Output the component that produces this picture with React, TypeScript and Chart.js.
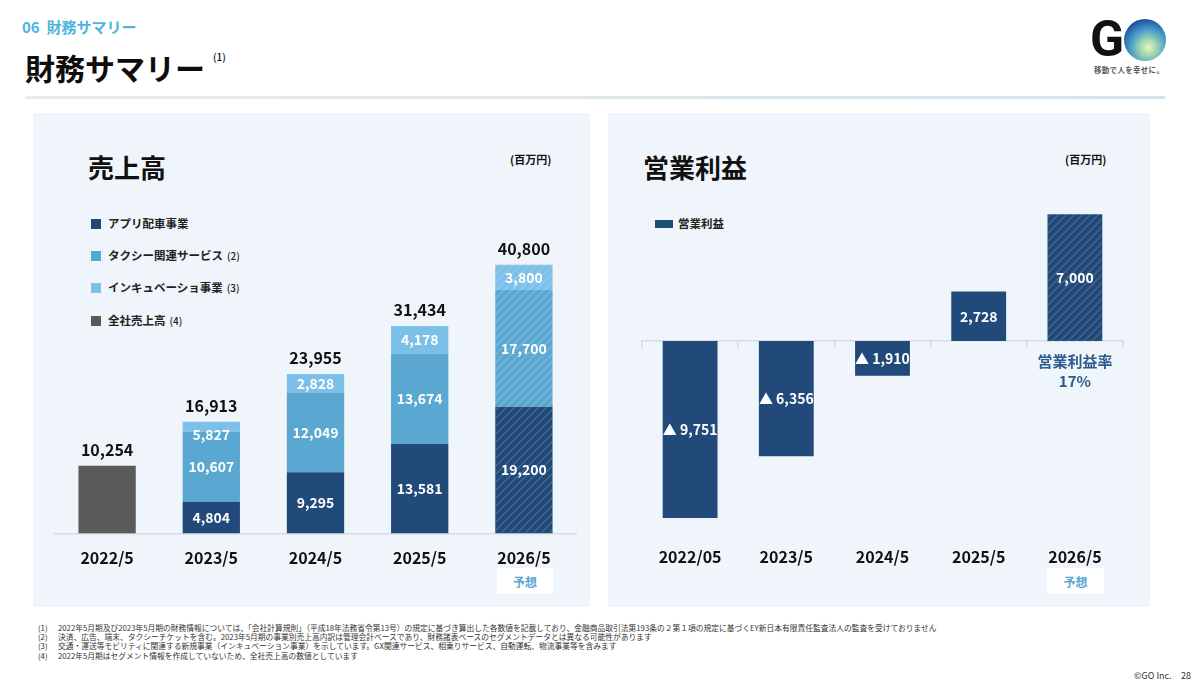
import React, { useEffect, useRef } from 'react';
import { Chart, registerables } from 'chart.js';

Chart.register(...registerables);

// ---- data ----
const revenueCategories = ['2022/5', '2023/5', '2024/5', '2025/5', '2026/5'];
const profitCategories = ['2022/05', '2023/5', '2024/5', '2025/5', '2026/5'];
const appRide = [null, 4804, 9295, 13581, 19200];
const taxiServices = [null, 10607, 12049, 13674, 17700];
const incubation = [null, 1502, 2828, 4178, 3800];
const incubationLabels = ['', '5,827', '2,828', '4,178', '3,800'];
const companyTotal = [10254, null, null, null, null];
const revenueTotals = [10254, 16913, 23955, 31434, 40800];
const operatingProfit = [-9751, -6356, -1910, 2728, 7000];
const forecastIndex = 4;
const marginLabel = ['営業利益率', '17%'];

const footnotes = [
  ['(1)', '2022年5月期及び2023年5月期の財務情報については、「会社計算規則」（平成18年法務省令第13号）の規定に基づき算出した各数値を記載しており、金融商品取引法第193条の２第１項の規定に基づくEY新日本有限責任監査法人の監査を受けておりません'],
  ['(2)', '決済、広告、端末、タクシーチケットを含む。2023年5月期の事業別売上高内訳は管理会計ベースであり、財務諸表ベースのセグメントデータとは異なる可能性があります'],
  ['(3)', '交通・運送等モビリティに関連する新規事業（インキュベーション事業）を示しています。GX関連サービス、相乗りサービス、自動運転、物流事業等を含みます'],
  ['(4)', '2022年5月期はセグメント情報を作成していないため、全社売上高の数値としています'],
];

const FONT = "'Noto Sans CJK JP', 'Noto Sans', sans-serif";
const NAVY = '#214a7a';
const TAXI = '#5aa7d1';
const INC = '#7cc0e9';
const GRAY = '#5a5a5a';
const PANEL = '#eff5fa';
const AXIS = '#d6dbe0';

function hatch(base: string, stripe: string) {
  const c = document.createElement('canvas');
  c.width = 8;
  c.height = 8;
  const g = c.getContext('2d')!;
  g.fillStyle = base;
  g.fillRect(0, 0, 8, 8);
  g.strokeStyle = stripe;
  g.lineWidth = 1.2;
  g.beginPath();
  g.moveTo(0, 8); g.lineTo(8, 0);
  g.moveTo(-2, 2); g.lineTo(2, -2);
  g.moveTo(6, 10); g.lineTo(10, 6);
  g.stroke();
  return g.createPattern(c, 'repeat')!;
}

function colorsWithForecast(base: string, pattern: any) {
  return revenueCategories.map((_, i) => (i === forecastIndex ? pattern : base));
}

const fmt = (v: number) => Math.abs(v).toLocaleString('en-US');

export default function App() {
  const leftRef = useRef<HTMLCanvasElement>(null);
  const rightRef = useRef<HTMLCanvasElement>(null);

  useEffect(() => {
    const navyHatch = hatch(NAVY, 'rgba(255,255,255,0.2)');
    const taxiHatch = hatch(TAXI, 'rgba(255,255,255,0.22)');
    const incHatch = hatch(INC, 'rgba(255,255,255,0.22)');

    const revenueLabelPlugin = {
      id: 'revenueLabels',
      afterDatasetsDraw(chart: any) {
        const ctx = chart.ctx;
        ctx.save();
        ctx.textAlign = 'center';
        ctx.textBaseline = 'middle';
        ctx.font = `700 14px ${FONT}`;
        ctx.fillStyle = '#ffffff';
        const segs = [appRide, taxiServices, incubation];
        segs.forEach((arr, di) => {
          const meta = chart.getDatasetMeta(di);
          meta.data.forEach((el: any, i: number) => {
            const v = arr[i];
            if (v == null) return;
            const { x, y, base } = el.getProps(['x', 'y', 'base'], true);
            let cy = (y + base) / 2;
            if (base - y < 15) cy = Math.max(cy, y + 13);
            const text = di === 2 ? incubationLabels[i] : fmt(v);
            ctx.fillText(text, x, cy);
          });
        });
        ctx.font = `700 16px ${FONT}`;
        ctx.fillStyle = '#111111';
        revenueTotals.forEach((t, i) => {
          let top = Infinity;
          let x = 0;
          chart.data.datasets.forEach((ds: any, di: number) => {
            if (ds.data[i] == null) return;
            const p = chart.getDatasetMeta(di).data[i].getProps(['x', 'y'], true);
            top = Math.min(top, p.y);
            x = p.x;
          });
          ctx.fillText(t.toLocaleString('en-US'), x, top - 16);
        });
        ctx.restore();
      },
    };

    const profitLabelPlugin = {
      id: 'profitLabels',
      afterDatasetsDraw(chart: any) {
        const ctx = chart.ctx;
        ctx.save();
        ctx.textAlign = 'center';
        ctx.textBaseline = 'middle';
        ctx.font = `700 14px ${FONT}`;
        ctx.fillStyle = '#ffffff';
        const meta = chart.getDatasetMeta(0);
        meta.data.forEach((el: any, i: number) => {
          const v = operatingProfit[i];
          const { x, y, base } = el.getProps(['x', 'y', 'base'], true);
          const text = v < 0 ? '▲ ' + fmt(v) : fmt(v);
          ctx.fillText(text, x, (y + base) / 2);
        });
        const fx = meta.data[forecastIndex].getProps(['x'], true).x;
        const zero = chart.scales.y.getPixelForValue(0);
        ctx.font = `700 15px ${FONT}`;
        ctx.fillStyle = '#2b5b8d';
        ctx.fillText(marginLabel[0], fx, zero + 20);
        ctx.fillText(marginLabel[1], fx, zero + 40);
        ctx.restore();
      },
    };

    const left = new Chart(leftRef.current!, {
      type: 'bar',
      data: {
        labels: revenueCategories,
        datasets: [
          { label: 'アプリ配車事業', data: appRide, backgroundColor: colorsWithForecast(NAVY, navyHatch) },
          { label: 'タクシー関連サービス', data: taxiServices, backgroundColor: colorsWithForecast(TAXI, taxiHatch) },
          { label: 'インキュベーション事業', data: incubation, backgroundColor: colorsWithForecast(INC, incHatch) },
          { label: '全社売上高', data: companyTotal, backgroundColor: GRAY },
        ] as any,
      },
      options: {
        animation: false,
        responsive: true,
        maintainAspectRatio: false,
        layout: { padding: { left: 22, right: 14, top: 90.3, bottom: 25.4 } },
        datasets: { bar: { barPercentage: 0.55, categoryPercentage: 1 } },
        plugins: { legend: { display: false }, tooltip: { enabled: false } },
        scales: {
          x: {
            stacked: true,
            grid: { display: false, drawTicks: false },
            border: { display: true, color: AXIS, width: 1.5 },
            ticks: { padding: 14.4, color: '#111', font: { family: FONT, size: 16, weight: 'bold' } },
          },
          y: { stacked: true, display: false, min: 0, max: 50000 },
        },
      } as any,
      plugins: [revenueLabelPlugin],
    });

    const right = new Chart(rightRef.current!, {
      type: 'bar',
      data: {
        labels: profitCategories,
        datasets: [
          {
            label: '営業利益',
            data: operatingProfit,
            backgroundColor: profitCategories.map((_, i) => (i === forecastIndex ? navyHatch : NAVY)),
          },
        ] as any,
      },
      options: {
        animation: false,
        responsive: true,
        maintainAspectRatio: false,
        layout: { padding: { left: 34, right: 27, top: 83, bottom: 15.4 } },
        datasets: { bar: { barPercentage: 0.57, categoryPercentage: 1 } },
        plugins: { legend: { display: false }, tooltip: { enabled: false } },
        scales: {
          x: {
            grid: { display: false, drawTicks: false },
            border: { display: false },
            ticks: { padding: 25, color: '#111', font: { family: FONT, size: 16, weight: 'bold' } },
          },
          x2: {
            type: 'category',
            axis: 'x',
            position: { y: 0 },
            offset: true,
            grid: { display: true, drawOnChartArea: false, drawTicks: true, tickLength: 7, color: AXIS, lineWidth: 1.5, offset: true },
            border: { display: true, color: AXIS, width: 1.5 },
            ticks: { display: false },
          },
          y: { display: false, min: -10000, max: 8000 },
        },
      } as any,
      plugins: [profitLabelPlugin],
    });

    return () => {
      left.destroy();
      right.destroy();
    };
  }, []);

  const abs = (l: number, t: number, extra: any = {}) => ({ position: 'absolute' as const, left: l, top: t, ...extra });
  const txt = (l: number, cy: number, size: number, extra: any = {}) =>
    abs(l, cy - size * 0.55, { fontSize: size, lineHeight: 1, whiteSpace: 'nowrap', fontWeight: 700, ...extra });

  const legendLeft = [
    { color: NAVY, text: 'アプリ配車事業', note: '', y: 224 },
    { color: TAXI, text: 'タクシー関連サービス', note: '(2)', y: 256 },
    { color: INC, text: 'インキュベーショ事業', note: '(3)', y: 288 },
    { color: GRAY, text: '全社売上高', note: '(4)', y: 321 },
  ];

  return (
    <div style={{ position: 'absolute', left: 0, top: 0, width: 1200, height: 685, background: '#fff', fontFamily: FONT, overflow: 'hidden', color: '#111' }}>
      {/* header */}
      <div style={txt(22, 27, 15, { color: '#4cb5df' })}>06&nbsp;&nbsp;財務サマリー</div>
      <div style={txt(25, 68, 30, { color: '#0d0d0d' })}>財務サマリー</div>
      <div style={txt(213, 57, 10, { fontWeight: 500 })}>(1)</div>
      <div style={abs(25, 96, { width: 1140, height: 3, background: 'linear-gradient(to right, #e8ecec, #d2e3ee)' })} />

      {/* logo */}
      <div style={abs(1090, 14, { fontFamily: "'Roboto', 'Inter', sans-serif", fontWeight: 700, fontSize: 50, lineHeight: 1, color: '#111' })}>G</div>
      <div style={abs(1124, 19, { width: 42, height: 42, borderRadius: '50%', background: 'radial-gradient(circle at 58% 68%, #eef3b8 0%, #9fd6b4 22%, #3f93c8 52%, #1d4594 80%, #162f78 100%)' })} />
      <div style={txt(1094, 70, 7.5, { color: '#555', letterSpacing: 0.3 })}>移動で人を幸せに。</div>

      {/* panels */}
      <div style={abs(33, 113, { width: 557, height: 494, background: PANEL })} />
      <div style={abs(608, 113, { width: 542, height: 494, background: PANEL })} />

      {/* left panel text */}
      <div style={txt(88, 168, 26)}>売上高</div>
      <div style={txt(510, 160, 11)}>(百万円)</div>
      {legendLeft.map((l) => (
        <React.Fragment key={l.text}>
          <div style={abs(91, l.y - 5, { width: 10, height: 10, background: l.color })} />
          <div style={txt(108, l.y, 11.5, { color: '#222' })}>
            {l.text}
            {l.note ? <span style={{ fontSize: 10, marginLeft: 4, fontWeight: 500 }}>{l.note}</span> : null}
          </div>
        </React.Fragment>
      ))}
      <div style={abs(497, 568, { width: 56, height: 26, background: '#fff', display: 'flex', alignItems: 'center', justifyContent: 'center', fontSize: 12, fontWeight: 700, color: '#5aa8d0' })}>予想</div>

      {/* right panel text */}
      <div style={txt(643, 168, 26)}>営業利益</div>
      <div style={txt(1065, 160, 11)}>(百万円)</div>
      <div style={abs(655, 220, { width: 18, height: 8, background: '#1f4e73' })} />
      <div style={txt(678, 224, 11.5, { color: '#222' })}>営業利益</div>
      <div style={abs(1047, 568, { width: 57, height: 26, background: '#fff', display: 'flex', alignItems: 'center', justifyContent: 'center', fontSize: 12, fontWeight: 700, color: '#5aa8d0' })}>予想</div>

      {/* charts */}
      <div style={abs(33, 113, { width: 557, height: 494 })}>
        <canvas ref={leftRef} />
      </div>
      <div style={abs(608, 113, { width: 542, height: 494 })}>
        <canvas ref={rightRef} />
      </div>

      {/* footnotes */}
      {footnotes.map((f, i) => (
        <React.Fragment key={f[0]}>
          <div style={txt(38, 628 + i * 9.3, 7.75, { fontWeight: 400, color: '#333' })}>{f[0]}</div>
          <div style={txt(58, 628 + i * 9.3, 7.75, { fontWeight: 400, color: '#333' })}>{f[1]}</div>
        </React.Fragment>
      ))}
      <div style={txt(1134, 676, 9, { fontWeight: 400, color: '#333' })}>©GO Inc.</div>
      <div style={txt(1181, 676, 9, { fontWeight: 400, color: '#333' })}>28</div>
    </div>
  );
}
